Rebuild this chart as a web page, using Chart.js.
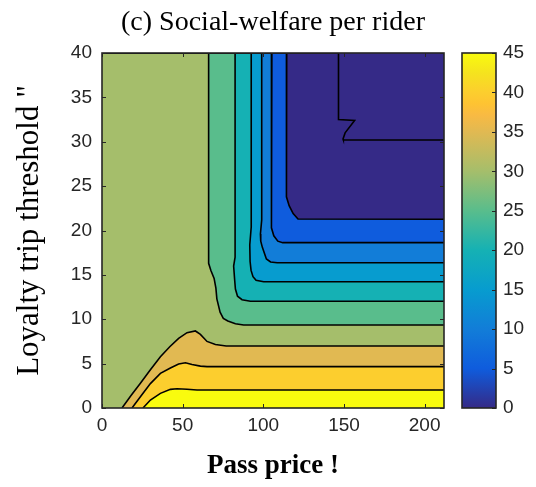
<!DOCTYPE html>
<html>
<head>
<meta charset="utf-8">
<title>Social-welfare per rider</title>
<script src="https://cdn.jsdelivr.net/npm/chart.js@4.4.0/dist/chart.umd.min.js"></script>
<style>
  html, body { margin: 0; padding: 0; background: #fff; }
  #wrap { width: 536px; height: 487px; }
</style>
</head>
<body>
<div id="wrap"><canvas id="welfare-contour" width="536" height="487"></canvas></div>
<script>
// Axis ticks
const passPriceTicks = [0, 50, 100, 150, 200];
const thresholdTicks = [0, 5, 10, 15, 20, 25, 30, 35, 40];
const welfareTicks = [0, 5, 10, 15, 20, 25, 30, 35, 40, 45];

const passPriceRange = [0, 212];
const thresholdRange = [0, 40];
const welfareRange = [0, 45];

// Contour levels and their isolines, points are [pass price, loyalty threshold]
const levels = [0, 5, 10, 15, 20, 25, 30, 35, 40, 45];

const contour0 = [[146.6, 40], [146.6, 32.5], [156.6, 32.4], [150.7, 31.0], [149.4, 30.3], [149.6, 30.2], [212, 30.2]];
const contour5 = [[114.5, 40], [114.5, 26.5], [114.1, 25.0], [114.4, 23.8], [116.0, 22.8], [118.5, 21.9], [121.5, 21.3], [212, 21.26]];
const contour10 = [[105.3, 40], [105.3, 24.0], [104.8, 23.0], [105.0, 20.3], [106.5, 19.4], [109.0, 18.8], [112.0, 18.63], [212, 18.63]];
const contour15 = [[99.0, 40], [99.0, 21.2], [98.2, 19.6], [98.4, 18.8], [99.4, 18.1], [101.9, 16.8], [104.5, 16.45], [108.6, 16.37], [212, 16.37]];
const contour20 = [[92.5, 40], [92.5, 20.4], [91.6, 18.4], [91.8, 16.5], [92.4, 15.5], [93.6, 14.8], [95.5, 14.4], [100.2, 14.23], [212, 14.23]];
const contour25 = [[82.5, 40], [82.5, 17.0], [81.6, 16.0], [82.2, 14.5], [82.7, 13.4], [84.0, 12.6], [86.8, 12.2], [92.0, 12.02], [212, 12.02]];
const contour30 = [[66.1, 40], [66.1, 16.3], [67.5, 15.5], [69.5, 14.6], [70.6, 13.5], [71.2, 12.3], [73.2, 10.8], [75.2, 10.1], [78.0, 9.8], [82.7, 9.5], [87.8, 9.35], [212, 9.35]];
const contour35 = [[12.4, 0], [18.0, 1.4], [23.8, 2.78], [30.0, 4.3], [36.2, 5.78], [42.0, 6.9], [47.5, 7.85], [52.7, 8.49], [57.9, 8.68], [61.0, 8.3], [65.1, 7.5], [70.3, 7.15], [77.0, 6.99], [212, 6.99]];
const contour40 = [[18.6, 0], [23.8, 1.27], [30.0, 2.75], [36.2, 3.9], [42.4, 4.5], [47.5, 4.96], [51.7, 5.1], [55.8, 4.9], [61.0, 4.72], [65.1, 4.66], [212, 4.66]];
const contour45 = [[25.4, 0], [30.0, 0.9], [36.2, 1.65], [42.4, 2.1], [46.5, 2.17], [52.7, 2.12], [58.9, 2.03], [212, 2.03]];

const contours = [contour0, contour5, contour10, contour15, contour20, contour25, contour30, contour35, contour40, contour45];

// parula colour stops (position, colour)
const parula = [
    [0.000, '#352A87'], [0.111, '#0F5CDD'], [0.222, '#127DD8'], [0.333, '#079CCF'],
    [0.444, '#15B1B4'], [0.556, '#59BD8C'], [0.667, '#A5BE6B'], [0.778, '#E1B952'],
    [0.825, '#F8BA43'], [0.857, '#FEC332'], [0.889, '#FCCE2E'], [0.944, '#F5E31E'],
    [1.000, '#F9FB0E']
];

function hexToRgb(hex) {
    const n = parseInt(hex.slice(1), 16);
    return [(n >> 16) & 255, (n >> 8) & 255, n & 255];
}

function parulaAt(t) {
    t = Math.min(1, Math.max(0, t));
    for (let i = 1; i < parula.length; i++) {
        const [p1, c1] = parula[i];
        if (t <= p1 + 1e-9) {
            const [p0, c0] = parula[i - 1];
            const f = (t - p0) / (p1 - p0);
            const a = hexToRgb(c0), b = hexToRgb(c1);
            const rgb = a.map((v, k) => Math.round(v + (b[k] - v) * f));
            return `rgb(${rgb[0]}, ${rgb[1]}, ${rgb[2]})`;
        }
    }
    return parula[parula.length - 1][1];
}

const axisColor = '#262626';
const sansFont = "'Liberation Sans', Arial, sans-serif";
const serifFont = "'Liberation Serif', 'Times New Roman', serif";
const tickLen = 4;

document.addEventListener('DOMContentLoaded', function() {
    const ctx = document.getElementById('welfare-contour').getContext('2d');

    // One line dataset per isoline; the area at or above each level is filled down to the x axis
    const datasets = levels.map((level, i) => {
        const points = contours[i].map(([x, y]) => ({ x: x, y: y }));
        // isolines that leave through the top edge enclose everything to their left
        if (points[0].y === thresholdRange[1]) {
            points.unshift({ x: passPriceRange[0], y: thresholdRange[1] });
        }
        return {
            label: 'W = ' + level,
            data: points,
            xAxisID: 'x',
            yAxisID: 'y',
            borderColor: '#000',
            borderWidth: 1.6,
            pointRadius: 0,
            tension: 0,
            clip: 0,
            fill: level > levels[0] ? 'start' : false,
            backgroundColor: parulaAt((level - welfareRange[0]) / (welfareRange[1] - welfareRange[0])),
            order: -level
        };
    });

    // Plot background, inward ticks, box and the colour bar
    const frame = {
        id: 'frame',
        beforeDraw(chart) {
            const { ctx, chartArea: a } = chart;
            ctx.save();
            ctx.fillStyle = parulaAt(0);
            ctx.fillRect(a.left, a.top, a.right - a.left, a.bottom - a.top);
            ctx.restore();
        },
        afterDraw(chart) {
            const { ctx, chartArea: a, scales } = chart;
            ctx.save();
            ctx.strokeStyle = axisColor;
            ctx.lineWidth = 1;
            ctx.beginPath();
            passPriceTicks.forEach(v => {
                const px = Math.round(scales.x.getPixelForValue(v)) + 0.5;
                ctx.moveTo(px, a.bottom); ctx.lineTo(px, a.bottom - tickLen);
                ctx.moveTo(px, a.top); ctx.lineTo(px, a.top + tickLen);
            });
            thresholdTicks.forEach(v => {
                const py = Math.round(scales.y.getPixelForValue(v)) + 0.5;
                ctx.moveTo(a.left, py); ctx.lineTo(a.left + tickLen, py);
                ctx.moveTo(a.right, py); ctx.lineTo(a.right - tickLen, py);
            });
            ctx.stroke();
            ctx.lineWidth = 1.6;
            ctx.strokeRect(a.left, a.top, a.right - a.left, a.bottom - a.top);

            // colour bar on the welfare scale
            const y2 = scales.y2;
            const top = y2.getPixelForValue(welfareRange[1]);
            const bottom = y2.getPixelForValue(welfareRange[0]);
            const left = a.right + 18;
            const width = 34;
            const grad = ctx.createLinearGradient(0, bottom, 0, top);
            parula.forEach(([p, c]) => grad.addColorStop(p, c));
            ctx.fillStyle = grad;
            ctx.fillRect(left, top, width, bottom - top);
            ctx.lineWidth = 1;
            ctx.beginPath();
            welfareTicks.forEach(v => {
                const py = Math.round(y2.getPixelForValue(v)) + 0.5;
                ctx.moveTo(left + width, py); ctx.lineTo(left + width - tickLen, py);
            });
            ctx.stroke();
            ctx.lineWidth = 1.6;
            ctx.strokeRect(left, top, width, bottom - top);
            ctx.restore();
        }
    };

    const tickFont = { family: sansFont, size: 19 };

    new Chart(ctx, {
        type: 'line',
        data: { datasets: datasets },
        plugins: [frame],
        options: {
            responsive: false,
            animation: false,
            events: [],
            layout: { padding: { left: 10, right: 0, top: 0, bottom: 0 } },
            plugins: {
                legend: { display: false },
                tooltip: { enabled: false },
                filler: { drawTime: 'beforeDatasetsDraw' },
                title: {
                    display: true,
                    text: '(c) Social-welfare per rider',
                    color: '#000',
                    font: { family: serifFont, size: 28, weight: 'normal' },
                    padding: { top: 6, bottom: 13.4 }
                }
            },
            scales: {
                x: {
                    type: 'linear',
                    min: passPriceRange[0],
                    max: passPriceRange[1],
                    grid: { display: false, drawTicks: false },
                    border: { display: false },
                    afterBuildTicks: s => { s.ticks = passPriceTicks.map(v => ({ value: v })); },
                    afterFit: s => { s.height = 79; },
                    ticks: { color: axisColor, font: tickFont, padding: 6, maxRotation: 0, autoSkip: false },
                    title: {
                        display: true,
                        text: 'Pass price !',
                        color: '#000',
                        font: { family: serifFont, size: 27, weight: 'bold' },
                        padding: { top: 0, bottom: 5 }
                    }
                },
                y: {
                    type: 'linear',
                    min: thresholdRange[0],
                    max: thresholdRange[1],
                    grid: { display: false, drawTicks: false },
                    border: { display: false },
                    afterBuildTicks: s => { s.ticks = thresholdTicks.map(v => ({ value: v })); },
                    afterFit: s => { s.width = 92; },
                    ticks: { color: axisColor, font: tickFont, padding: 10, autoSkip: false },
                    title: {
                        display: true,
                        text: 'Loyalty trip threshold "',
                        color: '#000',
                        font: { family: serifFont, size: 31, weight: 'normal' },
                        padding: { top: 1, bottom: 0 }
                    }
                },
                y2: {
                    type: 'linear',
                    position: 'right',
                    min: welfareRange[0],
                    max: welfareRange[1],
                    // the tick length only offsets the labels past the colour bar
                    grid: { display: false, drawTicks: true, tickLength: 58 },
                    border: { display: false },
                    afterBuildTicks: s => { s.ticks = welfareTicks.map(v => ({ value: v })); },
                    afterFit: s => { s.width = 92; },
                    ticks: { color: axisColor, font: tickFont, padding: 1, autoSkip: false }
                }
            }
        }
    });
});
</script>
</body>
</html>
